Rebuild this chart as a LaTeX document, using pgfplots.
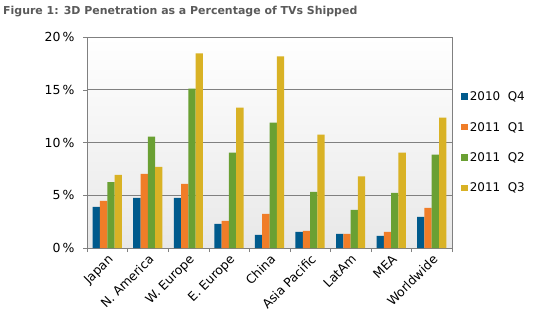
\documentclass[border=0pt]{standalone}
\usepackage{fontspec}
\setmainfont{DejaVu Sans}
\usepackage{pgfplots}
\pgfplotsset{compat=1.18}
\definecolor{cBlue}{HTML}{005A8C}
\definecolor{cOrange}{HTML}{F07D28}
\definecolor{cGreen}{HTML}{6AA033}
\definecolor{cYellow}{HTML}{D9B225}
\definecolor{cTitle}{HTML}{5A5A5A}
\definecolor{cAxis}{HTML}{808080}
\begin{document}
\begin{tikzpicture}[x=1bp,y=1bp]
\path (0,0) rectangle (542,-322);
\node[anchor=west,font=\fontsize{11}{13}\selectfont\bfseries,text=cTitle,inner sep=0pt] at (3,-12) {Figure 1: 3D Penetration as a Percentage of TVs Shipped};
\begin{axis}[
  at={(87bp,-248bp)}, anchor=south west,
  scale only axis, width=365bp, height=211bp,
  ybar=0pt, bar width=7.3bp,
  xmin=-0.5, xmax=8.5, ymin=0, ymax=20,
  xtick={0,...,8},
  xticklabels={Japan,N. America,W. Europe,E. Europe,China,Asia Pacific,LatAm,MEA,Worldwide},
  x tick label style={rotate=45,anchor=north east,inner sep=1pt,font=\fontsize{12.5}{14}\selectfont},
  major x tick style={draw=none},
  minor xtick={-0.5,0.5,...,8.5},
  minor tick length=4bp,
  ytick={0,5,10,15,20},
  yticklabel={\pgfmathprintnumber{\tick}\,\%},
  y tick label style={font=\fontsize{12.5}{14}\selectfont, xshift=-5bp},
  /pgf/number format/assume math mode=true,
  major tick length=4bp,
  tick align=outside,
  tick style={cAxis},
  ymajorgrids, grid style={cAxis, line width=0.8pt},
  axis line style={cAxis, line width=0.8pt},
  axis background/.style={shade, top color=white, bottom color=black!9},
  xtick pos=bottom, ytick pos=left,
  legend style={at={(1.025,0.5)}, anchor=west, draw=none, fill=none,
    font=\fontsize{12}{14}\selectfont, row sep=16bp, inner sep=0pt},
  legend cell align=left,
  legend image code/.code={\fill[#1] (0bp,-3bp) rectangle (6.5bp,3.5bp);},
]
\addplot[fill=cBlue,draw=none] coordinates {(0,3.9) (1,4.75) (2,4.75) (3,2.28) (4,1.24) (5,1.52) (6,1.33) (7,1.14) (8,2.95)};
\addplot[fill=cOrange,draw=none] coordinates {(0,4.47) (1,7.03) (2,6.08) (3,2.57) (4,3.23) (5,1.62) (6,1.33) (7,1.52) (8,3.8)};
\addplot[fill=cGreen,draw=none] coordinates {(0,6.25) (1,10.55) (2,15.1) (3,9.03) (4,11.88) (5,5.32) (6,3.61) (7,5.23) (8,8.84)};
\addplot[fill=cYellow,draw=none] coordinates {(0,6.94) (1,7.7) (2,18.44) (3,13.3) (4,18.16) (5,10.74) (6,6.8) (7,9.03) (8,12.36)};
\legend{2010\ \ Q4,2011\ \ Q1,2011\ \ Q2,2011\ \ Q3}
\end{axis}
\end{tikzpicture}
\end{document}
